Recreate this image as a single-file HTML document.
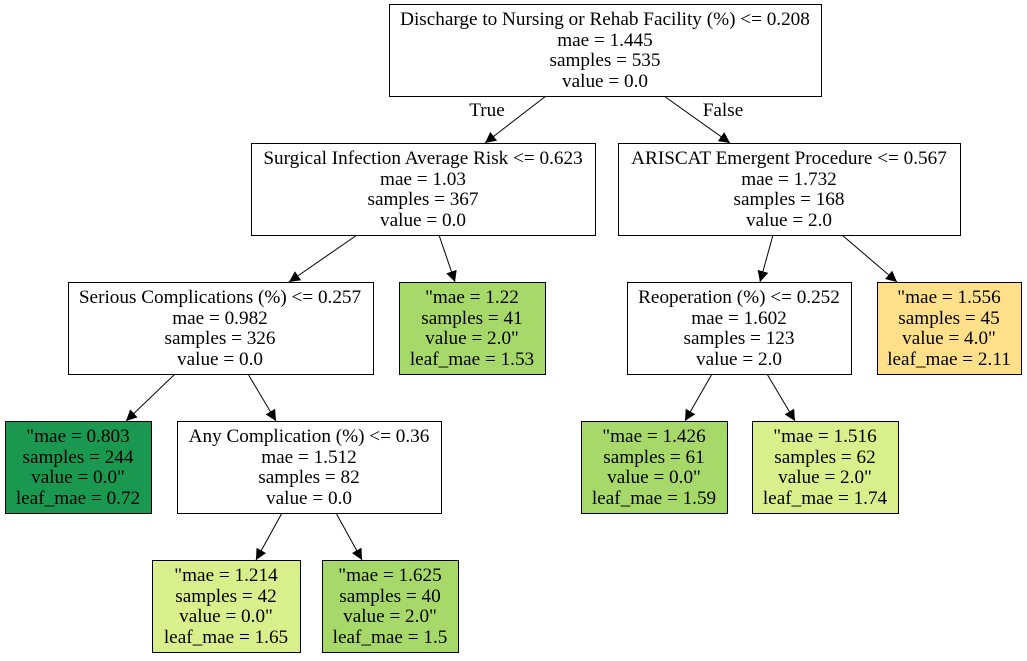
<!DOCTYPE html>
<html><head><meta charset="utf-8"><style>
html,body{margin:0;padding:0;background:#fff;}
svg text{font-family:"Liberation Serif",serif;font-size:19.2px;fill:#000;text-anchor:middle;}
</style></head><body>
<svg width="1027" height="656" viewBox="0 0 1027 656" xmlns="http://www.w3.org/2000/svg">
<defs><marker id="a" markerWidth="12" markerHeight="12" refX="11" refY="5.5" orient="auto" markerUnits="userSpaceOnUse"><path d="M0,0 L11,5.5 L0,11 z" fill="#000"/></marker></defs>
<g stroke="#000" stroke-width="1" fill="none">
<line x1="546" y1="96" x2="485" y2="143" marker-end="url(#a)"/>
<line x1="664" y1="96" x2="730" y2="143" marker-end="url(#a)"/>
<line x1="357" y1="235" x2="289" y2="282" marker-end="url(#a)"/>
<line x1="439" y1="235" x2="455" y2="282" marker-end="url(#a)"/>
<line x1="773" y1="235" x2="760" y2="282" marker-end="url(#a)"/>
<line x1="842" y1="235" x2="897" y2="282" marker-end="url(#a)"/>
<line x1="175" y1="374" x2="126" y2="421" marker-end="url(#a)"/>
<line x1="248" y1="374" x2="276" y2="421" marker-end="url(#a)"/>
<line x1="712" y1="374" x2="685" y2="421" marker-end="url(#a)"/>
<line x1="767" y1="374" x2="795" y2="421" marker-end="url(#a)"/>
<line x1="282" y1="513" x2="256" y2="560" marker-end="url(#a)"/>
<line x1="336" y1="513" x2="362" y2="560" marker-end="url(#a)"/>
</g>
<text x="487" y="116">True</text>
<text x="723" y="116">False</text>
<g stroke="#000" stroke-width="1">
<rect x="389.5" y="4.5" width="432" height="92" fill="#fff"/>
<rect x="251.5" y="143.5" width="344" height="92" fill="#fff"/>
<rect x="618.5" y="143.5" width="342" height="92" fill="#fff"/>
<rect x="68.5" y="282.5" width="305" height="92" fill="#fff"/>
<rect x="399.5" y="282.5" width="146" height="92" fill="#a6d96a"/>
<rect x="627.5" y="282.5" width="224" height="92" fill="#fff"/>
<rect x="877.5" y="282.5" width="144" height="92" fill="#fee08b"/>
<rect x="5.5" y="421.5" width="146" height="92" fill="#1a9850"/>
<rect x="177.5" y="421.5" width="264" height="92" fill="#fff"/>
<rect x="581.5" y="421.5" width="146" height="92" fill="#a6d96a"/>
<rect x="752.5" y="421.5" width="146" height="92" fill="#d9ef8b"/>
<rect x="152.5" y="560.5" width="148" height="92" fill="#d9ef8b"/>
<rect x="322.5" y="560.5" width="136" height="92" fill="#a6d96a"/>
</g>
<g>
<text x="605" y="25">Discharge to Nursing or Rehab Facility (%) &lt;= 0.208</text>
<text x="605" y="46">mae = 1.445</text><text x="605" y="66">samples = 535</text><text x="605" y="87">value = 0.0</text>

<text x="423" y="164">Surgical Infection Average Risk &lt;= 0.623</text>
<text x="423" y="185">mae = 1.03</text><text x="423" y="205">samples = 367</text><text x="423" y="226">value = 0.0</text>

<text x="789" y="164">ARISCAT Emergent Procedure &lt;= 0.567</text>
<text x="789" y="185">mae = 1.732</text><text x="789" y="205">samples = 168</text><text x="789" y="226">value = 2.0</text>

<text x="220" y="303">Serious Complications (%) &lt;= 0.257</text>
<text x="220" y="324">mae = 0.982</text><text x="220" y="344">samples = 326</text><text x="220" y="365">value = 0.0</text>

<text x="472" y="303">"mae = 1.22</text>
<text x="472" y="324">samples = 41</text><text x="472" y="344">value = 2.0"</text><text x="472" y="365">leaf_mae = 1.53</text>

<text x="739" y="303">Reoperation (%) &lt;= 0.252</text>
<text x="739" y="324">mae = 1.602</text><text x="739" y="344">samples = 123</text><text x="739" y="365">value = 2.0</text>

<text x="949" y="303">"mae = 1.556</text>
<text x="949" y="324">samples = 45</text><text x="949" y="344">value = 4.0"</text><text x="949" y="365">leaf_mae = 2.11</text>

<text x="78" y="442">"mae = 0.803</text>
<text x="78" y="463">samples = 244</text><text x="78" y="483">value = 0.0"</text><text x="78" y="504">leaf_mae = 0.72</text>

<text x="309" y="442">Any Complication (%) &lt;= 0.36</text>
<text x="309" y="463">mae = 1.512</text><text x="309" y="483">samples = 82</text><text x="309" y="504">value = 0.0</text>

<text x="654" y="442">"mae = 1.426</text>
<text x="654" y="463">samples = 61</text><text x="654" y="483">value = 0.0"</text><text x="654" y="504">leaf_mae = 1.59</text>

<text x="825" y="442">"mae = 1.516</text>
<text x="825" y="463">samples = 62</text><text x="825" y="483">value = 2.0"</text><text x="825" y="504">leaf_mae = 1.74</text>

<text x="226" y="581">"mae = 1.214</text>
<text x="226" y="602">samples = 42</text><text x="226" y="622">value = 0.0"</text><text x="226" y="643">leaf_mae = 1.65</text>

<text x="390" y="581">"mae = 1.625</text>
<text x="390" y="602">samples = 40</text><text x="390" y="622">value = 2.0"</text><text x="390" y="643">leaf_mae = 1.5</text>
</g>
</svg>
</body></html>
